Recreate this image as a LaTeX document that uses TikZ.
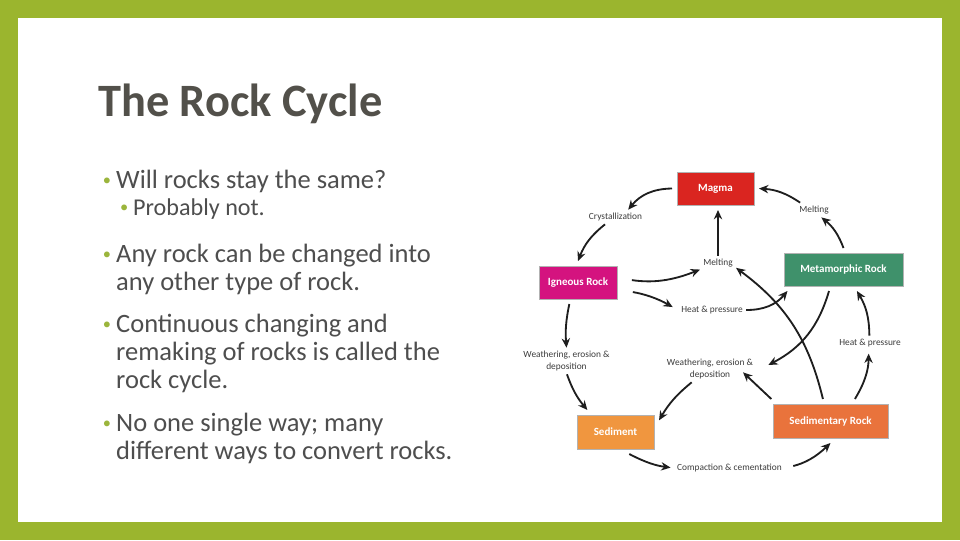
\documentclass[tikz,border=0pt]{standalone}
\usepackage{fontspec}
\setmainfont{Carlito}
\usepackage{xcolor}
\usetikzlibrary{arrows.meta,positioning}
\definecolor{framegreen}{HTML}{9BB52E}
\definecolor{bulletgreen}{HTML}{9BB53C}
\definecolor{titlegray}{HTML}{52504A}
\definecolor{bodygray}{HTML}{4E4E4E}
\definecolor{labelgray}{HTML}{3C3C3C}
\definecolor{arrowblack}{HTML}{1E1E1E}
\definecolor{magmared}{HTML}{DA2520}
\definecolor{igneouspink}{HTML}{D4137F}
\definecolor{metagreen}{HTML}{3F916B}
\definecolor{sedorange}{HTML}{F0963F}
\definecolor{sedrockorange}{HTML}{E9733C}
\newcommand{\bul}{\llap{\raisebox{0.1em}{\textcolor{bulletgreen}{\fontsize{14}{14}\selectfont\textbullet}}\hspace{0.2em}}}

\begin{document}
\begin{tikzpicture}[x=0.3mm, y=0.3mm,
  title/.style={anchor=base west, inner sep=0, text=titlegray,
                font=\bfseries\fontsize{39.6}{40}\selectfont},
  body/.style={anchor=base west, align=left, inner sep=0, text=bodygray,
               font=\fontsize{22.6}{23.8}\selectfont},
  rock/.style={draw=black!30, line width=0.2mm, text=white, inner sep=0,
               font=\bfseries\fontsize{9.4}{11}\selectfont,
               minimum height=9.9mm, outer sep=1.5mm},
  lbl/.style={align=center, text=labelgray, inner sep=0.5mm, outer sep=0.5mm,
              font=\fontsize{8}{10.2}\selectfont},
  flow/.style={draw=arrowblack, line width=0.55mm,
               -{Stealth[length=2.8mm,width=2.5mm]}}]
  % slide frame
  \useasboundingbox (0,0) rectangle (960,-540);
  \fill[framegreen] (0,0) rectangle (960,-540);
  \fill[white] (18,-18) rectangle (942,-522);

  % text column (base = last line)
  \node[title] (title) at (98,-116) {The Rock Cycle};
  \node[body] (b1) at (116,-188) {\bul Will rocks stay the same?};
  \node[body, font=\fontsize{20.6}{23.8}\selectfont] (b1a) at (133,-215) {\bul Probably not.};
  \node[body] (b2) at (116,-290) {\bul Any rock can be changed into\\any other type of rock.};
  \node[body] (b3) at (116,-388) {\bul Continuous changing and\\remaking of rocks is called the\\rock cycle.};
  \node[body] (b4) at (116,-459) {\bul No one single way; many\\different ways to convert rocks.};

  % rock boxes
  \node[rock, fill=magmared, minimum width=23.1mm] (magma) at (715.5,-188.5) {Magma};
  \node[rock, fill=igneouspink, minimum width=23.4mm] (igneous) at (578,-282.5) {Igneous Rock};
  \node[rock, fill=metagreen, minimum width=35.7mm] (meta) at (843.5,-269.5) {Metamorphic Rock};
  \node[rock, fill=sedorange, minimum width=23.1mm, minimum height=10.2mm] (sediment) at (615.5,-432) {Sediment};
  \node[rock, fill=sedrockorange, minimum width=34.5mm, minimum height=10.2mm] (sedrock) at (830.5,-421) {Sedimentary Rock};

  % process labels
  \node[lbl] (lcryst) at (615.5,-217) {Crystallization};
  \node[lbl] (lmeltA) at (814,-210) {Melting};
  \node[lbl] (lmeltB) at (718,-263) {Melting};
  \node[lbl] (lheatA) at (712,-310) {Heat \& pressure};
  \node[lbl] (lweathA) at (566.5,-361) {Weathering, erosion \&\\deposition};
  \node[lbl] (lweathB) at (710,-369) {Weathering, erosion \&\\deposition};
  \node[lbl] (lheatB) at (870,-343) {Heat \& pressure};
  \node[lbl] (lcompact) at (729.5,-468) {Compaction \& cementation};

  % cycle arrows
  \draw[flow] (magma.west) to[bend right=25] (lcryst.30);
  \draw[flow] (lcryst.215) to[bend right=15] (igneous.north);
  \draw[flow] (meta.north) to[bend right=15] (lmeltA.-45);
  \draw[flow] (lmeltA.152) to[bend right=15] (magma.east);
  \draw[flow] (lmeltB.north) -- (lmeltB.north |- magma.south);
  \draw[flow, shorten <=3mm] (igneous.5) to[bend right=15] (lmeltB.200);
  \draw[flow, shorten <=3.3mm, shorten >=1.8mm] (igneous.-10) to[bend left=10] (lheatA.west);
  \draw[flow] (lheatA.east) to[bend right=25] (meta.201);
  \draw[flow] (sedrock.109) to[bend right=20] (lmeltB.-15);
  \draw[flow] (meta.236) to[bend left=23] ([xshift=3.6mm,yshift=1.2mm]lweathB.east);
  \draw[flow, shorten >=1mm] (sedrock.42) to[bend right=15] (lheatB.-100);
  \draw[flow] (lheatB.95) to[bend right=15] (meta.-58);
  \draw[flow] ([xshift=1mm]sedrock.north west) -- ([xshift=-4mm,yshift=3mm]lweathB.south east);
  \draw[flow] (lweathB.216) to[bend right=10] (sediment.15);
  \draw[flow] (igneous.248) to[bend right=8] (lweathA.north);
  \draw[flow] (lweathA.-88) to[bend right=10] (sediment.142);
  \draw[flow, shorten >=1mm] (sediment.-58) to[bend right=10] (lcompact.west);
  \draw[flow, shorten <=2.5mm] (lcompact.east) to[bend right=15] (sedrock.south);
\end{tikzpicture}
\end{document}
